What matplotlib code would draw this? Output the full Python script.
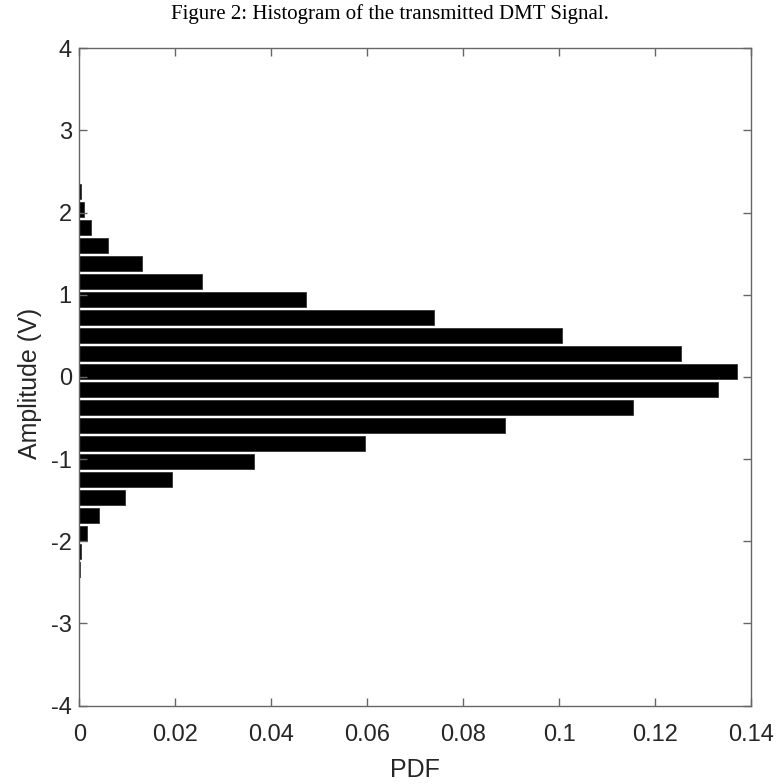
import numpy as np
import matplotlib.pyplot as plt

# histogram of amplitude (bin centres in V) and probability per bin
bin_centers = [2.258, 2.039, 1.820, 1.601, 1.382, 1.163, 0.944, 0.725, 0.506, 0.287,
               0.068, -0.151, -0.370, -0.589, -0.808, -1.027, -1.246, -1.465, -1.684,
               -1.903, -2.122, -2.341]
pdf_values = [0.0004, 0.0009, 0.0025, 0.0059, 0.0131, 0.0256, 0.0472, 0.0740, 0.1006, 0.1255,
              0.1371, 0.1331, 0.1155, 0.0888, 0.0595, 0.0364, 0.0192, 0.0094, 0.0040,
              0.0016, 0.0004, 0.0001]
bin_width = 0.219

x_ticks = [0, 0.02, 0.04, 0.06, 0.08, 0.1, 0.12, 0.14]
x_ticklabels = ['0', '0.02', '0.04', '0.06', '0.08', '0.1', '0.12', '0.14']
y_ticks = [-4, -3, -2, -1, 0, 1, 2, 3, 4]

plt.rcParams['font.family'] = 'Liberation Sans'
plt.rcParams['axes.unicode_minus'] = False

fig = plt.figure(figsize=(7.79, 7.84), dpi=100)
ax = fig.add_axes([0.102, 0.1001, 0.862, 0.8383])

ax.barh(bin_centers, pdf_values, height=bin_width * 0.82, color='black',
        edgecolor='#333333', linewidth=0.6)

ax.set_xlim(0, 0.14)
ax.set_ylim(-4, 4)
ax.set_xticks(x_ticks)
ax.set_xticklabels(x_ticklabels)
ax.set_yticks(y_ticks)

axis_gray = '#666666'
for s in ax.spines.values():
    s.set_color(axis_gray)
    s.set_linewidth(1.0)
ax.tick_params(direction='in', length=6, width=1, color=axis_gray,
               top=True, right=True, labelsize=17, labelcolor='#262626')
ax.tick_params(axis='x', pad=13)
ax.tick_params(axis='y', pad=5.5)

ax.set_xlabel('PDF', fontsize=18, color='#262626', labelpad=9)
ax.set_ylabel('Amplitude (V)', fontsize=18, color='#262626')
ax.yaxis.set_label_coords(-0.056, 0.49)

fig.text(0.5, 0.995, 'Figure 2: Histogram of the transmitted DMT Signal.',
         ha='center', va='top', fontsize=15, family='Liberation Serif')

fig.savefig('out.png', dpi=100)
